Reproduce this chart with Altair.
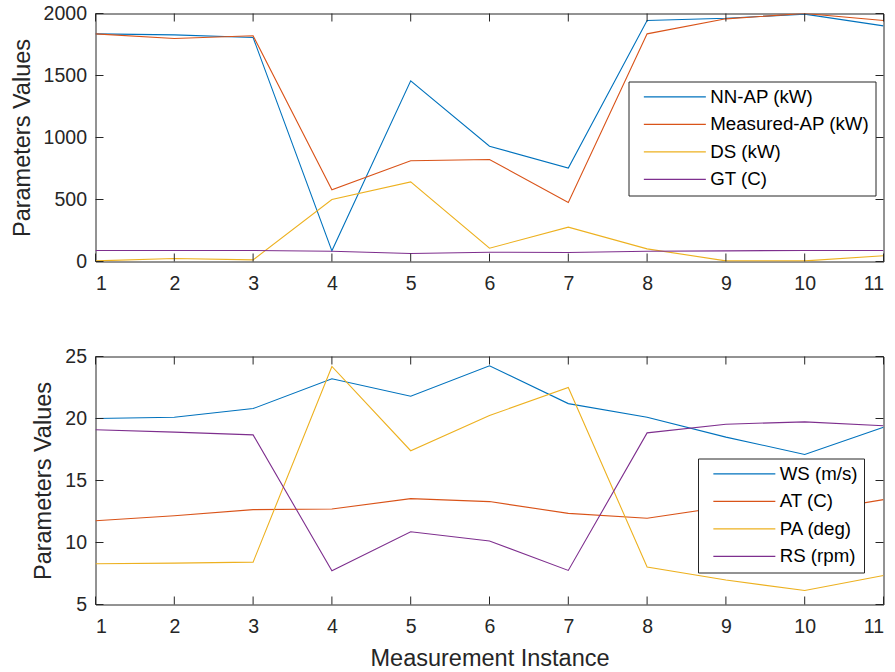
import altair as alt
import pandas as pd

# Measurement instances shared by both panels
instances = list(range(1, 12))

# Upper panel: power values and generator temperature
top_names = ["NN-AP (kW)", "Measured-AP (kW)", "DS (kW)", "GT (C)"]
nn_ap = [1836, 1828, 1806, 86, 1457, 930, 753, 1944, 1962, 1995, 1900]
measured_ap = [1836, 1798, 1820, 578, 812, 823, 476, 1836, 1957, 2000, 1944]
ds = [5, 24, 13, 500, 642, 107, 277, 102, 5, 5, 46]
gt = [89, 89, 89, 83, 65, 75, 73, 83, 86, 89, 89]
top_ticks = [0, 500, 1000, 1500, 2000]

# Lower panel: wind speed, ambient temperature, pitch angle, rotor speed
bottom_names = ["WS (m/s)", "AT (C)", "PA (deg)", "RS (rpm)"]
ws = [20.0, 20.1, 20.8, 23.2, 21.8, 24.25, 21.2, 20.1, 18.5, 17.1, 19.3]
at = [11.76, 12.16, 12.65, 12.7, 13.54, 13.3, 12.35, 11.95, 12.9, 12.4, 13.46]
pa = [8.29, 8.34, 8.42, 24.2, 17.4, 20.24, 22.5, 8.02, 6.97, 6.13, 7.34]
rs = [19.09, 18.9, 18.68, 7.72, 10.87, 10.12, 7.75, 18.84, 19.54, 19.73, 19.41]
bottom_ticks = [5, 10, 15, 20, 25]

colors = ["#0072BD", "#D95319", "#EDB120", "#7E2F8E"]
AXIS = "#262626"
FONT = "Liberation Sans"
W, H = 788, 248
TICK = 8


def panel(names, series, y_domain, y_ticks, x_title, legend_x, legend_y):
    rows = []
    for k, (name, vals) in enumerate(zip(names, series)):
        for i, v in zip(instances, vals):
            rows.append({"instance": i, "value": v, "series": name, "k": k})
    df = pd.DataFrame(rows)

    xs = alt.Scale(domain=[1, 11], nice=False, zero=False)
    ys = alt.Scale(domain=y_domain, nice=False, zero=False)

    x_axis = alt.Axis(values=instances, ticks=False, domain=False, grid=False,
                      labelPadding=13, titlePadding=10, format="d",
                      title=x_title if x_title else None)
    y_axis = alt.Axis(values=y_ticks, ticks=False, domain=False, grid=False,
                      labelPadding=9, titlePadding=9, format="d",
                      title="Parameters Values")

    lines = alt.Chart(df).mark_line(strokeWidth=1.1, clip=True).encode(
        x=alt.X("instance:Q", scale=xs, axis=x_axis),
        y=alt.Y("value:Q", scale=ys, axis=y_axis),
        color=alt.Color(
            "series:N",
            scale=alt.Scale(domain=names, range=colors),
            legend=alt.Legend(
                orient="none", legendX=legend_x, legendY=legend_y, title=None,
                symbolType="M0,0H20", symbolSize=38.44, symbolStrokeWidth=1.3,
                labelFont=FONT, labelFontSize=18.7, labelColor="#000000",
                labelLimit=0, labelOffset=57, rowPadding=7.5, padding=6,
                strokeColor=AXIS, fillColor="white", cornerRadius=0,
            ),
        ),
        order="k:Q",
    )

    # inward tick marks on all four sides of the box
    xt = pd.DataFrame({"t": instances})
    yt = pd.DataFrame({"t": y_ticks})
    rule = dict(color=AXIS, strokeWidth=1)
    tb = alt.Chart(xt).mark_rule(**rule).encode(
        x=alt.X("t:Q", scale=xs, axis=None), y=alt.value(H), y2=alt.value(H - TICK))
    tt = alt.Chart(xt).mark_rule(**rule).encode(
        x=alt.X("t:Q", scale=xs, axis=None), y=alt.value(0), y2=alt.value(TICK))
    tl = alt.Chart(yt).mark_rule(**rule).encode(
        y=alt.Y("t:Q", scale=ys, axis=None), x=alt.value(0), x2=alt.value(TICK))
    tr = alt.Chart(yt).mark_rule(**rule).encode(
        y=alt.Y("t:Q", scale=ys, axis=None), x=alt.value(W), x2=alt.value(W - TICK))

    return (
        alt.layer(lines, tb, tt, tl, tr)
        .resolve_axis(x="independent", y="independent")
        .properties(width=W, height=H)
    )


upper = panel(top_names, [nn_ap, measured_ap, ds, gt], [0, 2000], top_ticks,
              None, 533, 68)
lower = panel(bottom_names, [ws, at, pa, rs], [5, 25], bottom_ticks,
              "Measurement Instance", 602.5, 102)

chart = (
    alt.vconcat(upper, lower, spacing=95, bounds="flush")
    .resolve_scale(color="independent")
    .properties(padding={"left": 9.5, "top": 2.5, "right": 8, "bottom": 6},
                background="white")
    .configure_view(stroke=AXIS, strokeWidth=1)
    .configure_axis(labelFont=FONT, labelFontSize=19.5, labelColor=AXIS,
                    titleFont=FONT, titleFontSize=23.5, titleFontWeight="normal",
                    titleColor=AXIS)
)

chart.save("out.html", embed_options={"renderer": "svg", "actions": False})
